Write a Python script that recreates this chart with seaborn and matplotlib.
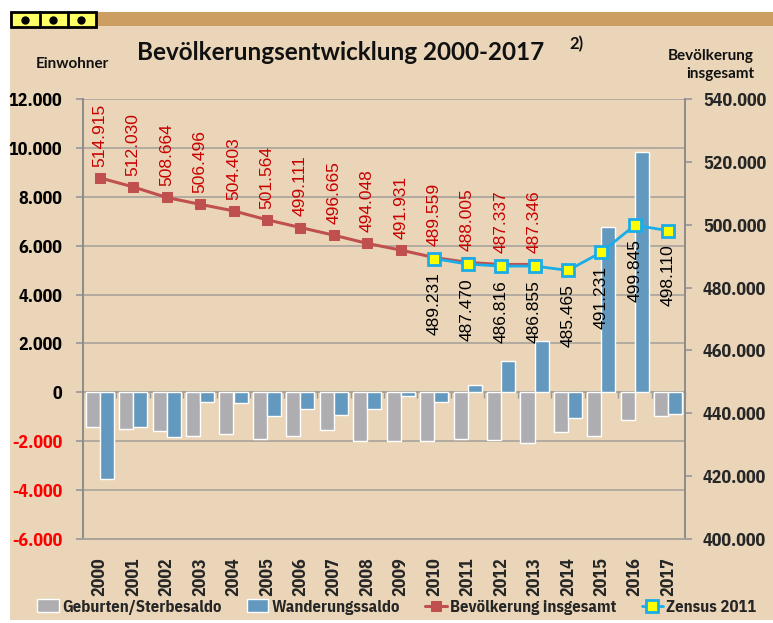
import numpy as np
import pandas as pd
import matplotlib
matplotlib.use("Agg")
import matplotlib.pyplot as plt
from matplotlib.patches import Rectangle
from matplotlib.lines import Line2D
import seaborn as sns

nan = np.nan

YEARS = ["2000", "2001", "2002", "2003", "2004", "2005", "2006", "2007", "2008",
         "2009", "2010", "2011", "2012", "2013", "2014", "2015", "2016", "2017"]
GEBURTEN = [-1410, -1510, -1590, -1800, -1690, -1890, -1800, -1550, -1990,
            -2000, -2000, -1900, -1960, -2090, -1620, -1770, -1140, -960]
WANDERUNG = [-3530, -1410, -1820, -380, -425, -975, -700, -920, -700,
             -150, -410, 300, 1270, 2100, -1040, 6760, 9840, -900]
BEVOELKERUNG = [514915, 512030, 508664, 506496, 504403, 501564, 499111, 496665, 494048,
                491931, 489559, 488005, 487337, 487346, nan, nan, nan, nan]
ZENSUS = [nan, nan, nan, nan, nan, nan, nan, nan, nan,
          nan, 489231, 487470, 486816, 486855, 485465, 491231, 499845, 498110]
LEFT_TICKS = [-6000, -4000, -2000, 0, 2000, 4000, 6000, 8000, 10000, 12000]
RIGHT_TICKS = [400000, 420000, 440000, 460000, 480000, 500000, 520000, 540000]

BG = "#EAD5B8"
GRAY = "#AEADB1"
BLUE = "#6399BE"
RED = "#C0504D"
LABEL_RED = "#C80000"
CYAN = "#1AADE8"
GRID = "#A9A39A"

NARROW = ["IBM Plex Sans Condensed", "DejaVu Sans"]
HEAD = ["Lato", "DejaVu Sans"]


def de(v):
    return f"{int(v):,}".replace(",", ".")


sns.set_theme(style="white")
plt.rcParams["font.family"] = ["Liberation Sans", "DejaVu Sans"]

W, H = 773, 623
fig = plt.figure(figsize=(W / 100, H / 100), dpi=100)
fig.patch.set_facecolor("white")

# frame decoration
fig.add_artist(Rectangle((10 / W, 3 / H), 1, (H - 15) / H, transform=fig.transFigure,
                         facecolor=BG, edgecolor="none", zorder=-10))
fig.add_artist(Rectangle((10 / W, (H - 26) / H), 1, 14 / H, transform=fig.transFigure,
                         facecolor="#CC9E62", edgecolor="none", zorder=-9))
fig.add_artist(Rectangle((11 / W, (H - 27) / H), 85 / W, 15 / H, transform=fig.transFigure,
                         facecolor="#FFFF66", edgecolor="black", lw=2, zorder=-8))
for xd in (39.5, 68):
    fig.add_artist(Line2D([xd / W, xd / W], [(H - 27) / H, (H - 12) / H],
                          transform=fig.transFigure, color="black", lw=2))
for xd in (25, 53, 81):
    fig.add_artist(Line2D([xd / W], [(H - 19.5) / H], transform=fig.transFigure,
                          marker="o", markersize=5, color="black", lw=0))

ax = fig.add_axes([83 / W, 84 / H, 602 / W, 440 / H])
ax.set_facecolor("none")

bars = pd.DataFrame({
    "Jahr": YEARS * 2,
    "Wert": GEBURTEN + WANDERUNG,
    "Reihe": ["Geburten/Sterbesaldo"] * len(YEARS) + ["Wanderungssaldo"] * len(YEARS),
})
sns.barplot(data=bars, x="Jahr", y="Wert", hue="Reihe", palette=[GRAY, BLUE],
            width=0.84, saturation=1, errorbar=None, ax=ax, zorder=2)
h1, l1 = ax.get_legend_handles_labels()
ax.get_legend().remove()

ax.set_ylim(-6000, 12000)
ax.set_yticks(LEFT_TICKS)
ax.set_yticklabels([de(t) for t in LEFT_TICKS])
for t, lab in zip(LEFT_TICKS, ax.get_yticklabels()):
    lab.set_color("#FF0000" if t < 0 else "black")
ax.grid(axis="y", color=GRID, lw=1.2)
ax.set_axisbelow(True)
ax.set_xlabel("")
ax.set_ylabel("")

ax2 = ax.twinx()
pos = np.arange(len(YEARS))
sns.lineplot(x=pos, y=BEVOELKERUNG, ax=ax2, color=RED, lw=2.2, marker="s",
             markersize=6.5, markeredgecolor=RED, label="Bevölkerung insgesamt")
sns.lineplot(x=pos, y=ZENSUS, ax=ax2, color=CYAN, lw=2, marker="s",
             markersize=9, markerfacecolor="#FFFF00", markeredgecolor=CYAN,
             markeredgewidth=2, label="Zensus 2011")
h2, l2 = ax2.get_legend_handles_labels()
ax2.get_legend().remove()
ax2.set_ylim(400000, 540000)
ax2.set_yticks(RIGHT_TICKS)
ax2.set_yticklabels([de(t) for t in RIGHT_TICKS])
ax2.set_xlabel("")
ax2.set_ylabel("")
ax.set_xlim(-0.5, len(YEARS) - 0.5)

for x, v in zip(pos, BEVOELKERUNG):
    if not np.isnan(v):
        ax2.annotate(de(v), (x, v), xytext=(0, 8), textcoords="offset points",
                     rotation=90, ha="center", va="bottom", color=LABEL_RED, fontsize=12.5)
for x, v in zip(pos, ZENSUS):
    if not np.isnan(v):
        ax2.annotate(de(v), (x, v), xytext=(0, -10), textcoords="offset points",
                     rotation=90, ha="center", va="top", color="black", fontsize=12.5)

# x axis crossing at zero with category tick marks
zero = (0 - LEFT_TICKS[0]) / (LEFT_TICKS[-1] - LEFT_TICKS[0])
sec = ax.secondary_xaxis(zero)
sec.set_xticks(np.arange(len(YEARS) + 1) - 0.5)
sec.set_xticklabels([])
sec.tick_params(axis="x", direction="out", length=4, width=1, color="#999999")
sec.spines["bottom"].set_color("#999999")
sec.spines["bottom"].set_linewidth(1.2)

for a in (ax, ax2):
    a.spines["top"].set_visible(False)
    a.spines["left"].set_color("#8C8C8C")
    a.spines["right"].set_color("#8C8C8C")
    a.spines["bottom"].set_color(GRID)
    a.spines["bottom"].set_linewidth(1.2)

ax.tick_params(axis="y", which="both", left=True, length=5, color="#999999", pad=10)
ax.tick_params(axis="x", bottom=False, pad=7)
ax2.tick_params(axis="y", right=True, length=5, color="#999999", pad=8)
for lab in ax.get_yticklabels() + ax2.get_yticklabels() + ax.get_xticklabels():
    lab.set_family(NARROW)
    lab.set_fontweight("bold")
    lab.set_fontsize(13)
for lab in ax.get_xticklabels():
    lab.set_rotation(90)

fig.text(341 / W, 1 - 52 / H, "Bevölkerungsentwicklung 2000-2017", ha="center", va="center",
         fontsize=17.5, fontweight="bold", family=HEAD, color="#111111")
fig.text(576 / W, 1 - 44 / H, "2)", ha="center", va="center",
         fontsize=12, fontweight="bold", family=HEAD, color="#111111")
fig.text(72 / W, 1 - 64 / H, "Einwohner", ha="center", va="center",
         fontsize=11, fontweight="bold", family=HEAD, color="#111111")
fig.text(754 / W, 1 - 65 / H, "Bevölkerung\ninsgesamt", ha="right", va="center",
         multialignment="right", linespacing=1.3,
         fontsize=11, fontweight="bold", family=HEAD, color="#111111")

fig.legend(h1 + h2, l1 + l2, loc="center", bbox_to_anchor=(397 / W, 1 - 607 / H), ncol=4,
           frameon=False, handlelength=1.3, handleheight=0.8, handletextpad=0.2,
           columnspacing=1.5, prop={"family": NARROW, "weight": "bold", "size": 12})

fig.savefig("out.png", dpi=100, facecolor="white")
